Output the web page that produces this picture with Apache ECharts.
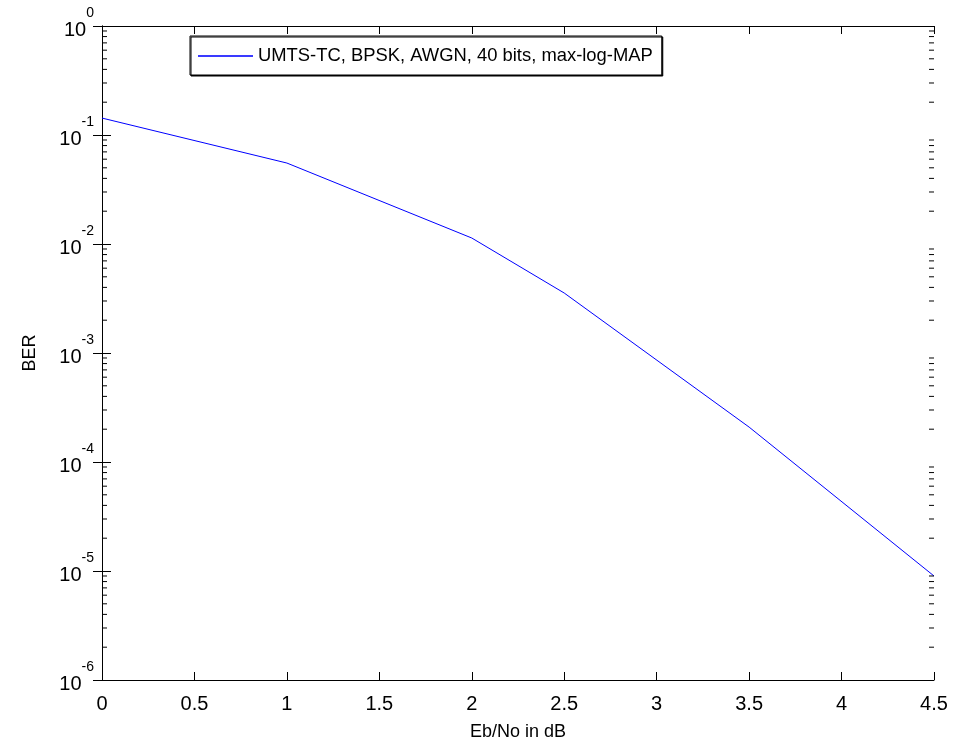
<!DOCTYPE html>
<html>
<head>
<meta charset="utf-8">
<script src="https://cdn.jsdelivr.net/npm/echarts@6/dist/echarts.min.js"></script>
<style>
  html, body { margin: 0; padding: 0; background: #fff; }
  #chart { width: 957px; height: 751px; }
</style>
</head>
<body>
<div id="chart"></div>
<script>
// Simulated bit error rate of the UMTS turbo code
const ebNo = [0, 1, 2, 2.5, 3.5, 4.5];
const ber = [0.143, 0.0553, 0.01135, 0.00355, 2.09e-4, 9.0e-6];
const seriesName = 'UMTS-TC, BPSK, AWGN, 40 bits, max-log-MAP';

// Axis ranges and tick settings
const xMin = 0, xMax = 4.5, xStep = 0.5;
const yMin = 1e-6, yMax = 1;
const decadeExponents = [-6, -5, -4, -3, -2, -1, 0];
const minorMultipliers = [2, 3, 4, 5, 6, 7, 8, 9];

const FONT = '"Liberation Sans", Arial, Helvetica, sans-serif';

// Minor tick values for every decade of the log axis
const minorTicks = [];
decadeExponents.slice(0, -1).forEach(e => {
  minorMultipliers.forEach(m => minorTicks.push([xMin, m * Math.pow(10, e)]));
});

const chart = echarts.init(document.getElementById('chart'), null, { renderer: 'canvas' });

const axisLine = { show: true, lineStyle: { color: '#000', width: 1 } };
const tickStyle = { color: '#000', width: 1 };

const option = {
  animation: false,
  backgroundColor: '#fff',
  grid: { left: 102, right: 23, top: 26, bottom: 71, containLabel: false },
  legend: {
    show: true,
    data: [seriesName],
    left: 190,
    top: 36,
    orient: 'vertical',
    padding: [11, 9, 10, 8],
    itemGap: 0,
    itemWidth: 55,
    itemHeight: 2,
    icon: 'rect',
    backgroundColor: '#fff',
    borderColor: '#000',
    borderWidth: 1,
    borderRadius: 0,
    shadowColor: '#000',
    shadowOffsetX: 1,
    shadowOffsetY: 1,
    shadowBlur: 0,
    itemStyle: { color: '#3a3aff' },
    textStyle: { color: '#000', fontFamily: FONT, fontSize: 18.4, padding: [0, 0, 0, 0] }
  },
  xAxis: [
    {
      type: 'value', min: xMin, max: xMax, interval: xStep,
      position: 'bottom',
      name: 'Eb/No in dB', nameLocation: 'middle', nameGap: 43,
      nameTextStyle: { color: '#000', fontFamily: FONT, fontSize: 18 },
      axisLine: axisLine,
      axisTick: { show: true, inside: true, length: 8, lineStyle: tickStyle },
      axisLabel: {
        color: '#000', fontFamily: FONT, fontSize: 20, margin: 14,
        formatter: v => String(Math.round(v * 10) / 10)
      },
      splitLine: { show: false }
    },
    {
      type: 'value', min: xMin, max: xMax, interval: xStep,
      position: 'top',
      axisLine: axisLine,
      axisTick: { show: true, inside: true, length: 8, lineStyle: tickStyle },
      axisLabel: { show: false },
      splitLine: { show: false }
    }
  ],
  yAxis: [
    {
      type: 'log', logBase: 10, min: yMin, max: yMax,
      position: 'left',
      name: 'BER', nameLocation: 'middle', nameGap: 63,
      nameTextStyle: { color: '#000', fontFamily: FONT, fontSize: 18 },
      axisLine: axisLine,
      axisTick: { show: true, inside: true, length: 9, lineStyle: tickStyle },
      axisLabel: {
        color: '#000', fontFamily: FONT, margin: 8,
        formatter: v => '{b|10}{s|' + Math.round(Math.log10(v)) + '}',
        rich: {
          b: { fontFamily: FONT, fontSize: 20, color: '#000', verticalAlign: 'middle', lineHeight: 20, padding: [8, 0, 0, 0] },
          s: { fontFamily: FONT, fontSize: 14, color: '#000', verticalAlign: 'middle', lineHeight: 14, padding: [0, 0, 26, 0] }
        }
      },
      splitLine: { show: false }
    },
    {
      type: 'log', logBase: 10, min: yMin, max: yMax,
      position: 'right',
      axisLine: axisLine,
      axisTick: { show: true, inside: true, length: 9, lineStyle: tickStyle },
      axisLabel: { show: false },
      splitLine: { show: false }
    }
  ],
  series: [
    {
      name: seriesName,
      type: 'line',
      data: ebNo.map((x, i) => [x, ber[i]]),
      xAxisIndex: 0, yAxisIndex: 0,
      showSymbol: false,
      symbol: 'none',
      lineStyle: { color: '#0000ff', width: 1 },
      itemStyle: { color: '#3a3aff' },
      z: 3
    },
    {
      // minor log ticks drawn on both vertical edges of the plot box
      name: 'minorTicks',
      type: 'custom',
      xAxisIndex: 0, yAxisIndex: 0,
      data: minorTicks,
      silent: true,
      clip: false,
      z: 4,
      renderItem: (params, api) => {
        const v = api.value(1);
        const pl = api.coord([xMin, v]);
        const pr = api.coord([xMax, v]);
        return {
          type: 'group',
          children: [
            { type: 'line', shape: { x1: pl[0], y1: pl[1], x2: pl[0] + 5, y2: pl[1] }, style: { stroke: '#000', lineWidth: 1 } },
            { type: 'line', shape: { x1: pr[0], y1: pr[1], x2: pr[0] - 5, y2: pr[1] }, style: { stroke: '#000', lineWidth: 1 } }
          ]
        };
      }
    }
  ]
};

chart.setOption(option);
</script>
</body>
</html>
